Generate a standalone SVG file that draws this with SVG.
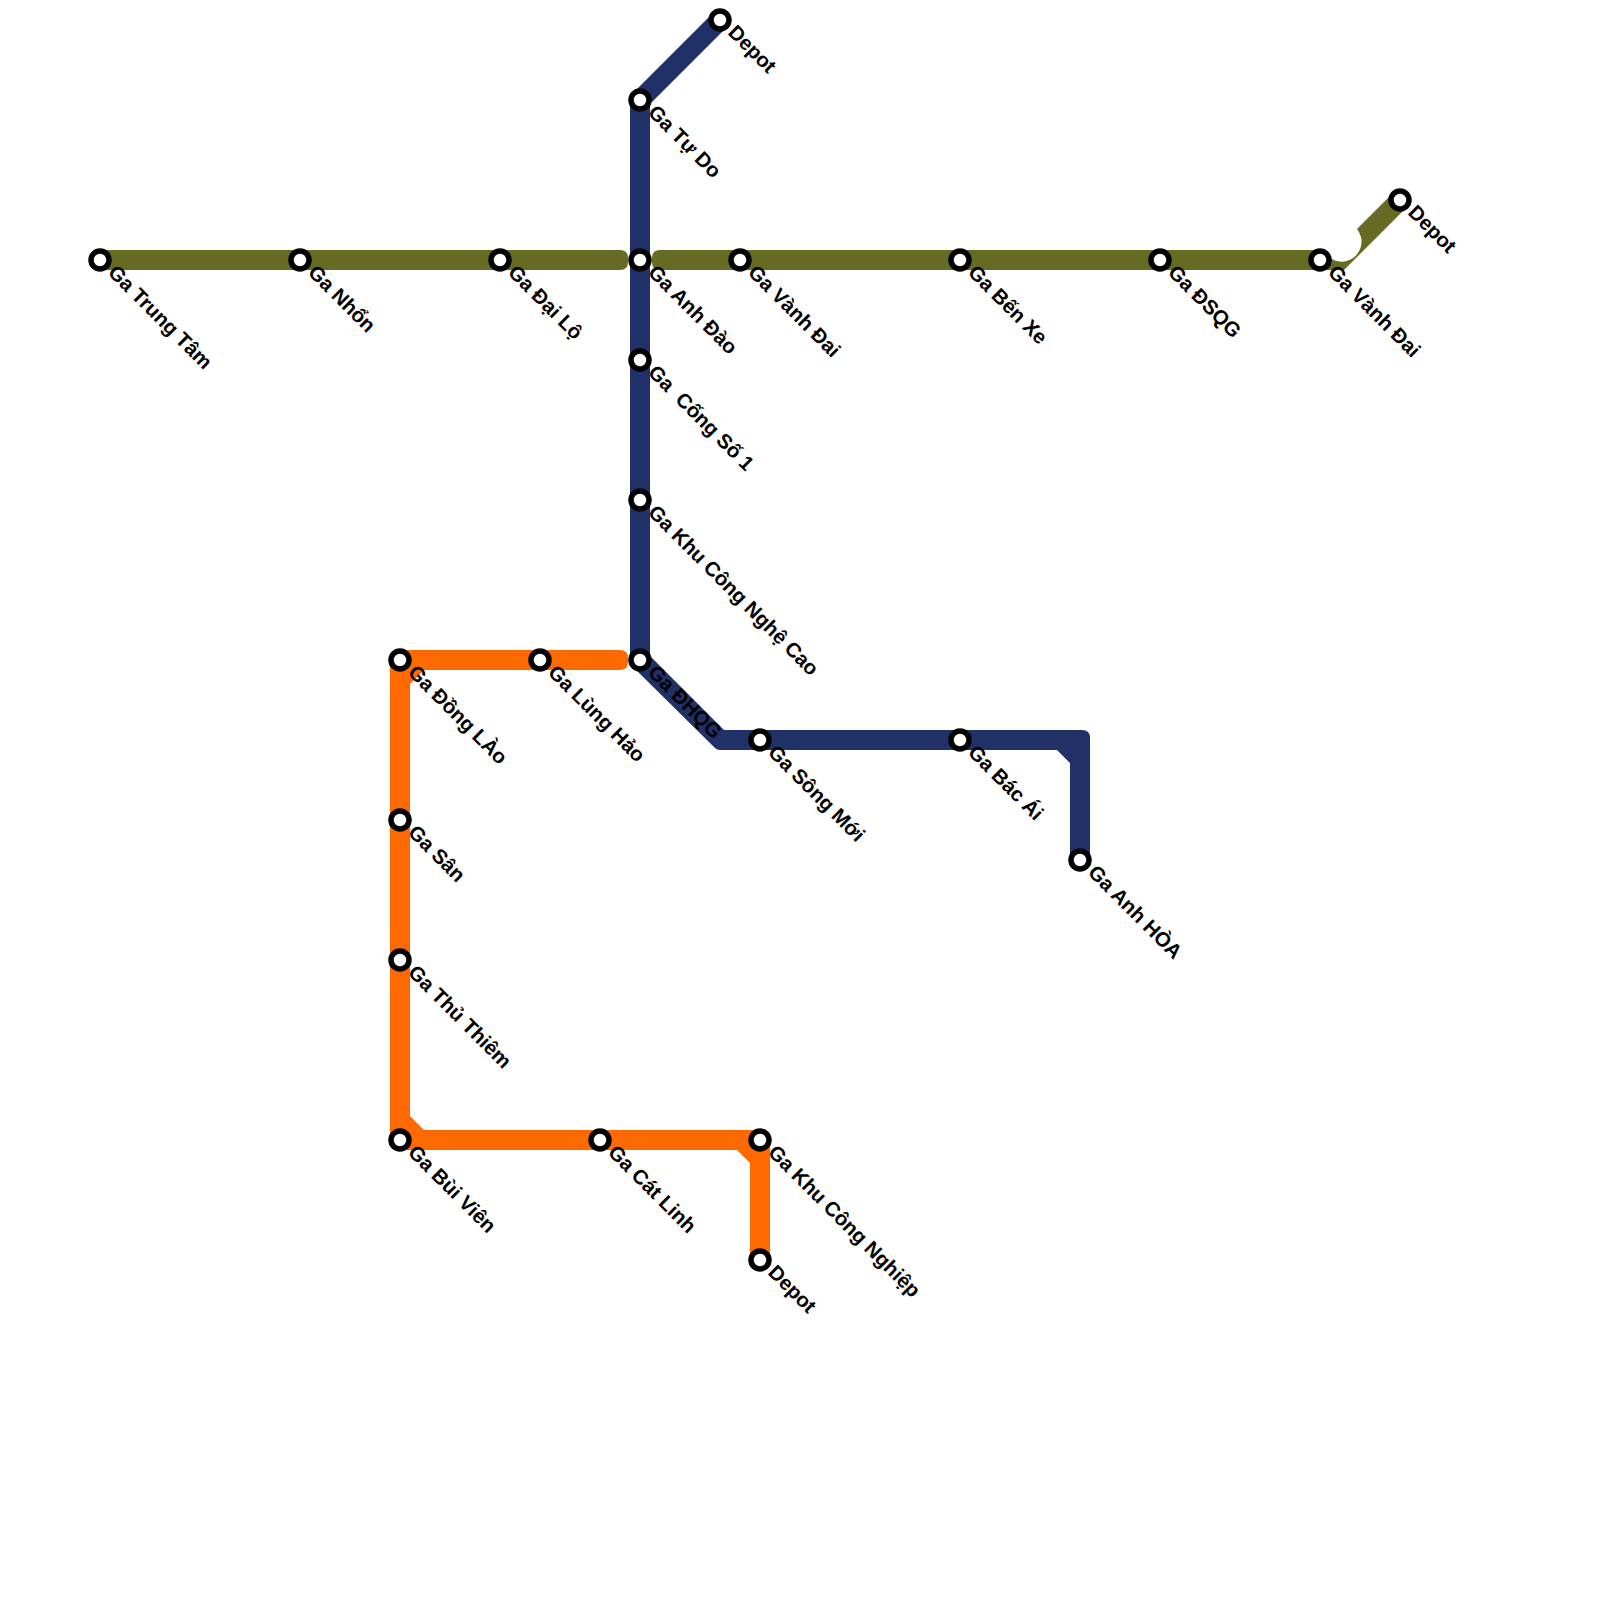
<svg xmlns="http://www.w3.org/2000/svg" width="1600" height="1600" viewBox="0 0 1600 1600">
<defs>
<style>
.st{fill:#fff;stroke:#000;stroke-width:5.5}
.lb{font-family:"Liberation Sans",Arial,sans-serif;font-weight:700;font-size:20.4px;fill:#000}
</style>
<circle id="s" class="st" r="9"/>
</defs>
<rect width="1600" height="1600" fill="#fff"/>
<g id="connectors">
<path id="line-olive-a" fill="#666a22" d="M100 250H620Q628 250 628 258V262Q628 270 620 270H100Z"/>
<path id="line-olive-b" fill="#666a22" d="M660 250H1320L1326 254.300A20 20 0 0 0 1357 229L1393 193L1407 207L1344 270H660Q652 270 652 262V258Q652 250 660 250Z"/>
<path id="line-blue" fill="#203168" d="M633 93L713 13L727 27L650 104V656L724 730H1082Q1090 730 1090 738V860H1070V763L1057 750H720Q717 750 715 748L630 664V100Z"/>
<path id="line-orange" fill="#ff6a00" d="M398 650H620Q628 650 628 658V662Q628 670 620 670H424L410 684V1116L424 1130H762Q770 1130 770 1138V1260H750V1163L737 1150H398Q390 1150 390 1142V658Q390 650 398 650Z"/>
</g>
<g id="n1"><use href="#s" x="100" y="260"/><text class="lb" transform="translate(107 273.500) rotate(45)">Ga Trung Tâm</text></g>
<g id="n2"><use href="#s" x="300" y="260"/><text class="lb" transform="translate(307 273.500) rotate(45)">Ga Nhổn</text></g>
<g id="n3"><use href="#s" x="500" y="260"/><text class="lb" transform="translate(507 273.500) rotate(45)">Ga Đại Lộ</text></g>
<g id="n4"><use href="#s" x="640" y="260"/><text class="lb" transform="translate(647 273.500) rotate(45)">Ga Anh Đào</text></g>
<g id="n5"><use href="#s" x="740" y="260"/><text class="lb" transform="translate(747 273.500) rotate(45)">Ga Vành Đai</text></g>
<g id="n6"><use href="#s" x="960" y="260"/><text class="lb" transform="translate(967 273.500) rotate(45)">Ga Bến Xe</text></g>
<g id="n7"><use href="#s" x="1160" y="260"/><text class="lb" transform="translate(1167 273.500) rotate(45)">Ga ĐSQG</text></g>
<g id="n8"><use href="#s" x="1320" y="260"/><text class="lb" transform="translate(1327 273.500) rotate(45)">Ga Vành Đai</text></g>
<g id="n9"><use href="#s" x="1400" y="200"/><text class="lb" transform="translate(1407 213.500) rotate(45)">Depot</text></g>
<g id="n10"><use href="#s" x="720" y="20"/><text class="lb" transform="translate(727 33.500) rotate(45)">Depot</text></g>
<g id="n11"><use href="#s" x="640" y="100"/><text class="lb" transform="translate(647 113.500) rotate(45)">Ga Tự Do</text></g>
<g id="n12"><use href="#s" x="640" y="360"/><text class="lb" transform="translate(647 373.500) rotate(45)" xml:space="preserve">Ga  Cống Số 1</text></g>
<g id="n13"><use href="#s" x="640" y="500"/><text class="lb" transform="translate(647 513.500) rotate(45)">Ga Khu Công Nghệ Cao</text></g>
<g id="n14"><use href="#s" x="640" y="660"/><text class="lb" transform="translate(647 673.500) rotate(45)">Ga ĐHQG</text></g>
<g id="n15"><use href="#s" x="760" y="740"/><text class="lb" transform="translate(767 753.500) rotate(45)">Ga Sông Mới</text></g>
<g id="n16"><use href="#s" x="960" y="740"/><text class="lb" transform="translate(967 753.500) rotate(45)">Ga Bác Ái</text></g>
<g id="n17"><use href="#s" x="1080" y="860"/><text class="lb" transform="translate(1087 873.500) rotate(45)">Ga Anh HÒA</text></g>
<g id="n18"><use href="#s" x="400" y="660"/><text class="lb" transform="translate(407 673.500) rotate(45)">Ga Đồng LÀo</text></g>
<g id="n19"><use href="#s" x="540" y="660"/><text class="lb" transform="translate(547 673.500) rotate(45)">Ga Lùng Hảo</text></g>
<g id="n20"><use href="#s" x="400" y="820"/><text class="lb" transform="translate(407 833.500) rotate(45)">Ga Sân</text></g>
<g id="n21"><use href="#s" x="400" y="960"/><text class="lb" transform="translate(407 973.500) rotate(45)">Ga Thủ Thiêm</text></g>
<g id="n22"><use href="#s" x="400" y="1140"/><text class="lb" transform="translate(407 1153.500) rotate(45)">Ga Bùi Viên</text></g>
<g id="n23"><use href="#s" x="600" y="1140"/><text class="lb" transform="translate(607 1153.500) rotate(45)">Ga Cát Linh</text></g>
<g id="n24"><use href="#s" x="760" y="1140"/><text class="lb" transform="translate(767 1153.500) rotate(45)">Ga Khu Công Nghiệp</text></g>
<g id="n25"><use href="#s" x="760" y="1260"/><text class="lb" transform="translate(767 1273.500) rotate(45)">Depot</text></g>
</svg>
